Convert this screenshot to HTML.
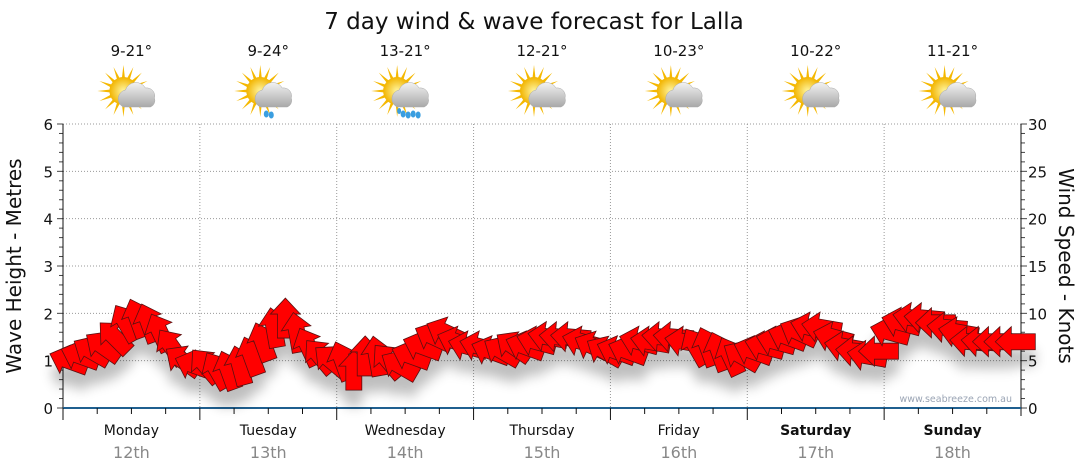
<!DOCTYPE html>
<html><head><meta charset="utf-8"><style>
body{margin:0;background:#fff;}
svg{display:block;font-family:"DejaVu Sans","Liberation Sans",sans-serif;}
</style></head><body>
<svg id="c" width="1080" height="475">
<defs>
<filter id="sh" x="-20%" y="-50%" width="140%" height="200%"><feGaussianBlur stdDeviation="6"/></filter>
<radialGradient id="sun" cx="50%" cy="50%" r="50%"><stop offset="0" stop-color="#fff6a0"/><stop offset="1" stop-color="#f2b400"/></radialGradient>
<linearGradient id="cl" x1="0" y1="0" x2="0" y2="1"><stop offset="0" stop-color="#f2f2f2"/><stop offset="1" stop-color="#a8a8a8"/></linearGradient>
</defs>
<text x="534" y="29" font-size="23" text-anchor="middle" fill="#111">7 day wind &amp; wave forecast for Lalla</text>
<g id="grid"></g><g id="axes"></g><g id="top"></g>
<g id="shadow" filter="url(#sh)" opacity="0.25"></g>
<g id="arrows"></g>
<text x="1012" y="402" font-size="9.5" text-anchor="end" fill="#9aa4b4">www.seabreeze.com.au</text>
<text transform="translate(21,266) rotate(-90)" font-size="20" text-anchor="middle" fill="#111">Wave Height - Metres</text>
<text transform="translate(1059,266) rotate(90)" font-size="20" text-anchor="middle" fill="#111">Wind Speed - Knots</text>
</svg>
<script>
const days=["Monday","Tuesday","Wednesday","Thursday","Friday","Saturday","Sunday"];
const dates=["12th","13th","14th","15th","16th","17th","18th"];
const temps=["9-21°","9-24°","13-21°","12-21°","10-23°","10-22°","11-21°"];
const rain=[0,1,2,0,0,0,0];
const waveTicks=[0,1,2,3,4,5,6];
const windTicks=[0,5,10,15,20,25,30];
const windSpeed=[5,5.5,6,6.5,7.5,9,9.5,9,8,6.5,5,4.5,
4.5,4,4,4.5,5.5,7,8.5,9.5,8,6.5,5.5,5,
5,4,5.5,5.5,5,4.5,5.5,6.5,7.5,8,7,6.5,
6.5,6,6,6.5,6.5,7,7.5,7.5,7.5,7,6.5,6,
6,6,7,7,7.5,7.5,7,6.5,6.5,6,5.5,5.5,
6,6.5,7,7.5,8,8.5,8.5,7.5,6.5,6,5.5,6,
8,9,9.5,9.5,9,8.5,8,7,7,7,7,7];
const windDir=[200,200,210,215,225,240,250,250,245,235,215,200,
230,240,250,255,250,250,260,270,260,245,230,220,
250,270,270,260,230,210,200,200,205,205,200,195,
195,200,210,215,200,195,190,185,185,195,205,210,
200,200,195,190,185,185,190,240,250,250,245,210,
200,195,195,200,205,195,190,195,190,185,190,180,
195,195,190,185,180,185,190,185,185,180,180,180];
const NS="http://www.w3.org/2000/svg";
const X0=63,X1=1021,Y0=408,YT=124,DW=(X1-X0)/7;
const yWave=v=>Y0-(Y0-YT)*v/6, yWind=v=>Y0-(Y0-YT)*v/30, xIdx=i=>X0+DW*(i+0.5)/12;
function mk(p,t,a){const e=document.createElementNS(NS,t);for(const k in a)e.setAttribute(k,a[k]);p.appendChild(e);return e;}
const G=document.getElementById('grid'),A=document.getElementById('axes'),T=document.getElementById('top');
waveTicks.forEach(v=>{if(v>0){const l=mk(G,'line',{x1:X0,x2:X1,y1:yWave(v),y2:yWave(v),stroke:'#999','stroke-dasharray':'1,2'});

}
const t=mk(A,'text',{x:X0-10,y:yWave(v)+6,'font-size':15,'text-anchor':'end',fill:'#111'});t.textContent=v;

});
windTicks.forEach(v=>{const t=mk(A,'text',{x:X1+7,y:yWind(v)+6,'font-size':15,fill:'#111'});t.textContent=v;

});
for(let i=0;i<=30;i++){const y=Y0-(Y0-YT)*i/30;
mk(A,'line',{x1:X0-(i%5?4:6),x2:X0,y1:y,y2:y,stroke:'#444'});
mk(A,'line',{x1:X1,x2:X1+(i%5?4:6),y1:y,y2:y,stroke:'#444'});}
mk(A,'line',{x1:X0,x2:X0,y1:YT,y2:Y0+8,stroke:'#111'});
mk(A,'line',{x1:X1,x2:X1,y1:YT,y2:Y0+8,stroke:'#111'});
mk(A,'line',{x1:X0,x2:X1,y1:Y0,y2:Y0,stroke:'#1f5f8f','stroke-width':2});
for(let d=0;d<=7;d++){const x=X0+DW*d;
if(d>0&&d<7){const l=mk(G,'line',{x1:x,x2:x,y1:YT,y2:Y0,stroke:'#999','stroke-dasharray':'1,2'});

}
if(d<7){mk(A,'line',{x1:x,x2:x,y1:Y0,y2:Y0+12,stroke:'#111'});
for(let q=1;q<4;q++)mk(A,'line',{x1:x+DW*q/4,x2:x+DW*q/4,y1:Y0,y2:Y0+6,stroke:'#111'});
const cx=x+DW/2;
const dn=mk(A,'text',{x:cx,y:435,'font-size':14,'text-anchor':'middle',fill:'#111','font-weight':d>=5?'bold':'normal'});dn.textContent=days[d];


const dt=mk(A,'text',{x:cx,y:458,'font-size':16,'text-anchor':'middle',fill:'#888'});dt.textContent=dates[d];


const tt=mk(T,'text',{x:cx,y:56,'font-size':15,'text-anchor':'middle',fill:'#111'});tt.textContent=temps[d];


const ic=mk(T,'g',{transform:`translate(${cx},95)`});


for(let r=0;r<16;r++){mk(ic,'polygon',{points:'-3,0 3,0 0,-26',fill:'#f5b800',transform:`translate(-8,-4) rotate(${r*22.5})`});}
mk(ic,'circle',{cx:-8,cy:-4,r:14,fill:'url(#sun)'});
mk(ic,'path',{d:'M-8,12 a9,9 0 0 1 2,-17 a11,11 0 0 1 20,-2 a8,8 0 0 1 9,10 a7,7 0 0 1 -4,9 z',fill:'url(#cl)',stroke:'#aaa','stroke-width':0.5});
for(let k=0;k<rain[d];k++){mk(ic,'ellipse',{cx:-2+k*10,cy:19,rx:2.5,ry:3.5,fill:'#3a9ee0'});mk(ic,'ellipse',{cx:3+k*10,cy:20,rx:2.5,ry:3.5,fill:'#3a9ee0'});}
if(rain[d]==2){mk(ic,'ellipse',{cx:-6,cy:16,rx:2,ry:3,fill:'#3a9ee0'});}
}}
const pts='20,0 4,-15 4,-8 -20,-8 -20,8 4,8 4,15';
const S=document.getElementById('shadow'),AR=document.getElementById('arrows');
windSpeed.forEach((v,i)=>{const x=xIdx(i),y=yWind(v);
mk(S,'polygon',{points:pts,fill:'#000',transform:`translate(${x},${y+16}) rotate(${windDir[i]})`});
const p=mk(AR,'polygon',{points:pts,fill:'#ff0000',stroke:'#5a1010','stroke-width':0.8,transform:`translate(${x},${y}) rotate(${windDir[i]})`});

});
</script>
</body></html>
